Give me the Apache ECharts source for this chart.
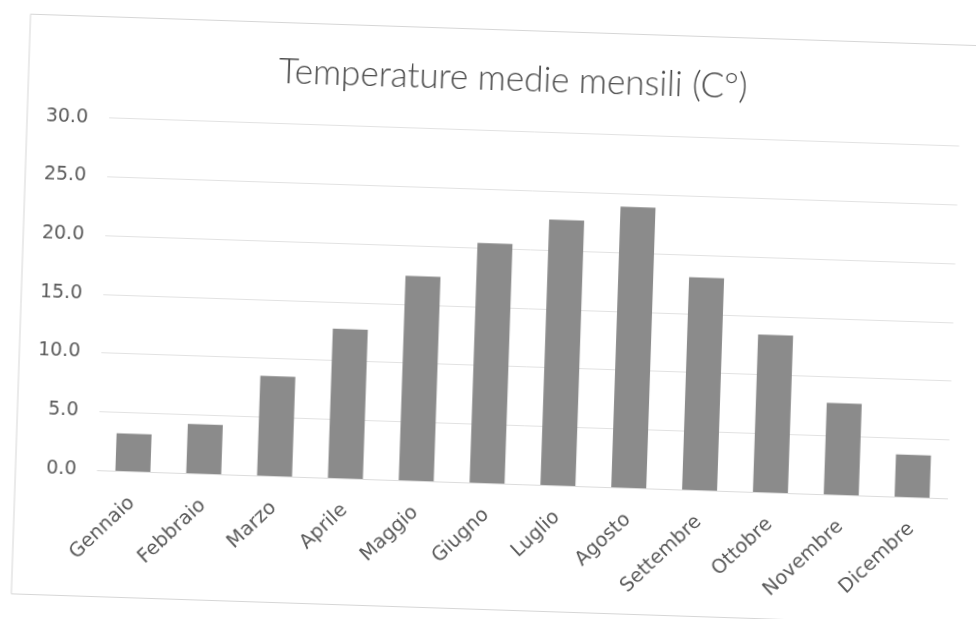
<!DOCTYPE html>
<html>
<head>
<meta charset="utf-8">
<script src="https://cdn.jsdelivr.net/npm/echarts@6/dist/echarts.min.js"></script>
<style>
  html, body { margin: 0; padding: 0; background: #ffffff; overflow: hidden; }
  #chart {
    width: 976px;
    height: 619px;
    transform: rotate(1.9deg);
    transform-origin: 488px 309.5px;
  }
</style>
</head>
<body>
<div id="chart"></div>
<script>
// Monthly mean temperatures (°C)
const months = ['Gennaio', 'Febbraio', 'Marzo', 'Aprile', 'Maggio', 'Giugno',
                'Luglio', 'Agosto', 'Settembre', 'Ottobre', 'Novembre', 'Dicembre'];
const temperatures = [3.2, 4.2, 8.5, 12.7, 17.4, 20.4, 22.6, 23.9, 18.1, 13.4, 7.8, 3.6];
const yMin = 0;
const yMax = 30;
const yStep = 5;
const chartTitle = 'Temperature medie mensili (C°)';

const FONT = 'DejaVu Sans';
const TITLE_FONT = 'Lato';
const TEXT = '#5a5a5a';

const chart = echarts.init(document.getElementById('chart'), null, { renderer: 'canvas' });

chart.setOption({
  backgroundColor: '#ffffff',
  animation: false,
  title: {
    text: chartTitle,
    left: 266,
    top: 56,
    textStyle: {
      fontFamily: TITLE_FONT,
      fontSize: 35,
      fontWeight: 300,
      color: '#4a4a4a'
    }
  },
  // light frame around the chart area
  graphic: [{
    type: 'rect',
    silent: true,
    z: -1,
    shape: { x: 21, y: 29.5, width: 1010, height: 580 },
    style: { fill: 'none', stroke: '#d6d6d6', lineWidth: 1 }
  }],
  grid: {
    left: 103,
    right: 22.5,
    top: 130.6,
    bottom: 136,
    containLabel: false
  },
  xAxis: {
    type: 'category',
    data: months,
    axisLine: { show: true, lineStyle: { color: '#dcdcdc', width: 1 } },
    axisTick: { show: false },
    axisLabel: {
      rotate: 45,
      margin: 29,
      interval: 0,
      fontFamily: FONT,
      fontSize: 19.5,
      color: TEXT
    }
  },
  yAxis: {
    type: 'value',
    min: yMin,
    max: yMax,
    interval: yStep,
    axisLine: { show: false },
    axisTick: { show: false },
    splitLine: { show: true, lineStyle: { color: '#e2e2e2', width: 1 } },
    axisLabel: {
      margin: 21,
      fontFamily: FONT,
      fontSize: 19,
      color: TEXT,
      formatter: v => v.toFixed(1)
    }
  },
  series: [{
    type: 'bar',
    data: temperatures,
    barWidth: 35,
    itemStyle: { color: '#8b8b8b' }
  }]
});
</script>
</body>
</html>
